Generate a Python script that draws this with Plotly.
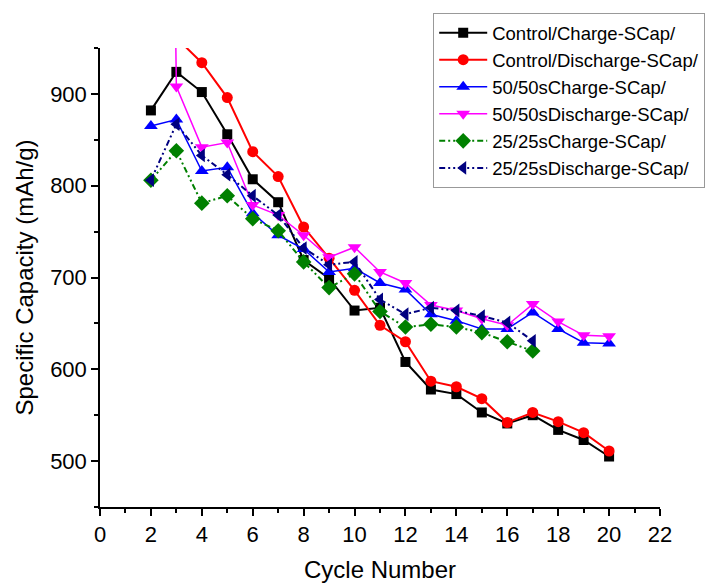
import plotly.graph_objects as go

ctrl_charge_x = list(range(2, 21))
ctrl_charge = [882, 924, 902, 856, 807, 782, 719, 699, 664, 667, 608, 578, 573, 553, 541, 550, 534, 523, 505]

ctrl_dis_x = list(range(3, 21))
ctrl_dis = [961, 934, 896, 837, 810, 755, 721, 686, 648, 630, 587, 581, 568, 542, 553, 543, 531, 511]

c50_charge_x = list(range(2, 21))
c50_charge = [865, 872, 816, 820, 770, 746, 731, 706, 710, 694, 687, 660, 653, 644, 644, 662, 644, 629, 628]

c50_dis_x = list(range(2, 21))
c50_dis = [3000, 908, 842, 847, 779, 768, 746, 722, 733, 706, 694, 670, 664, 655, 648, 671, 652, 637, 636]

c25_charge_x = list(range(2, 18))
c25_charge = [806, 838, 781, 789, 764, 751, 717, 689, 704, 663, 646, 649, 646, 640, 630, 620]

c25_dis_x = list(range(2, 18))
c25_dis = [806, 867, 833, 812, 789, 768, 732, 714, 717, 676, 660, 667, 664, 658, 651, 631]

series = [
    ("Control/Charge-SCap/", ctrl_charge_x, ctrl_charge, "#000000", "square", 10, "solid", 2),
    ("Control/Discharge-SCap/", ctrl_dis_x, ctrl_dis, "#FF0000", "circle", 11, "solid", 2),
    ("50/50sCharge-SCap/", c50_charge_x, c50_charge, "#0000FF", "triangle-up", 12, "solid", 1.5),
    ("50/50sDischarge-SCap/", c50_dis_x, c50_dis, "#FF00FF", "triangle-down", 12, "solid", 1.5),
    ("25/25sCharge-SCap/", c25_charge_x, c25_charge, "#008000", "diamond", 12, "6px,3px,2px,3px,2px,3px", 2),
    ("25/25sDischarge-SCap/", c25_dis_x, c25_dis, "#000080", "triangle-left", 12, "6px,3px,2px,3px,2px,3px", 2),
]

fig = go.Figure()
for name, xs, ys, color, sym, size, dash, lw in series:
    fig.add_trace(go.Scatter(
        x=xs, y=ys, name=name, mode="lines+markers",
        line=dict(color=color, width=lw, dash=dash),
        marker=dict(symbol=sym, size=size, color=color),
        cliponaxis=True,
    ))

font_family = "Arial, Liberation Sans, sans-serif"
fig.update_layout(
    width=719, height=575,
    margin=dict(l=92, r=67, t=40, b=76, autoexpand=False),
    paper_bgcolor="white", plot_bgcolor="white",
    font=dict(family=font_family, color="#000000"),
    showlegend=True,
    legend=dict(
        x=0.595, y=1.076, xanchor="left", yanchor="top",
        bordercolor="#999999", borderwidth=1, bgcolor="white",
        font=dict(size=18.5, family=font_family, color="#000000"),
        tracegroupgap=0, itemwidth=48,
    ),
    xaxis=dict(
        range=[0, 22], dtick=2, tick0=0, automargin=False,
        showgrid=False, zeroline=False,
        showline=True, linecolor="#000000", linewidth=1.5,
        ticks="outside", ticklen=7, tickwidth=1.5, tickcolor="#000000",
        minor=dict(dtick=1, ticks="outside", ticklen=4, tickwidth=1.5, tickcolor="#000000"),
        tickfont=dict(size=22),
        title=dict(text="Cycle Number", font=dict(size=24), standoff=20),
    ),
    yaxis=dict(
        range=[450, 950], dtick=100, tick0=500, automargin=False,
        showgrid=False, zeroline=False,
        showline=True, linecolor="#000000", linewidth=1.5,
        ticks="outside", ticklen=7, tickwidth=1.5, tickcolor="#000000",
        minor=dict(dtick=50, tick0=450, ticks="outside", ticklen=4, tickwidth=1.5, tickcolor="#000000"),
        tickfont=dict(size=22),
        title=dict(text="Specific Capacity (mAh/g)", font=dict(size=24), standoff=10),
    ),
)

fig.write_html("out.html")
